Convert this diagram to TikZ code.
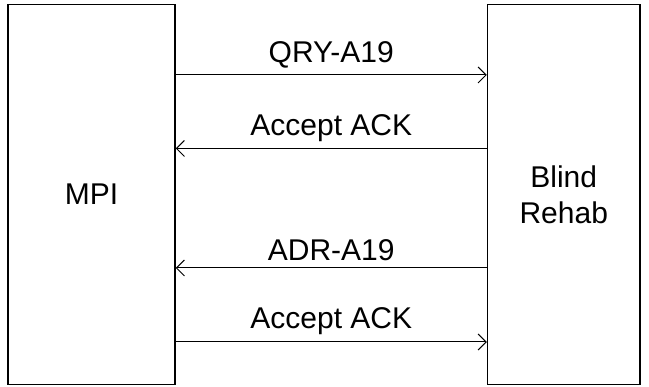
\documentclass[tikz,border=0pt]{standalone}
\usepackage{fontspec}
\setmainfont{Liberation Sans}
\usetikzlibrary{arrows.meta}

\begin{document}
\begin{tikzpicture}[x=1pt,y=-1pt]
	\tikzstyle{every node}+=[font=\fontsize{30}{36}\selectfont]
	\tikzstyle{system}=[draw=black, line width=1.5pt, rectangle, minimum height=380pt, align=center, inner sep=0pt]
	\tikzstyle{msg}=[black, line width=1pt, -{Straight Barb[length=8pt,width=16pt]}]
	\useasboundingbox (0,0) rectangle (649,387);
	% the two systems
	\node [system, minimum width=167pt] (mpi) at (91.5,194.5) {MPI};
	\node [system, minimum width=152.5pt] (rehab) at (563.75,194.5) {Blind\\Rehab};
	% message rows
	\coordinate (q1) at (0,75);
	\coordinate (q2) at (0,148.5);
	\coordinate (q3) at (0,268);
	\coordinate (q4) at (0,342);
	\draw [msg] (mpi.east |- q1) -- (rehab.west |- q1) node [midway, above=3pt] {QRY-A19};
	\draw [msg] (rehab.west |- q2) -- (mpi.east |- q2) node [midway, above=3pt] {Accept ACK};
	\draw [msg] (rehab.west |- q3) -- (mpi.east |- q3) node [midway, above=3pt] {ADR-A19};
	\draw [msg] (mpi.east |- q4) -- (rehab.west |- q4) node [midway, above=3pt] {Accept ACK};
\end{tikzpicture}
\end{document}
